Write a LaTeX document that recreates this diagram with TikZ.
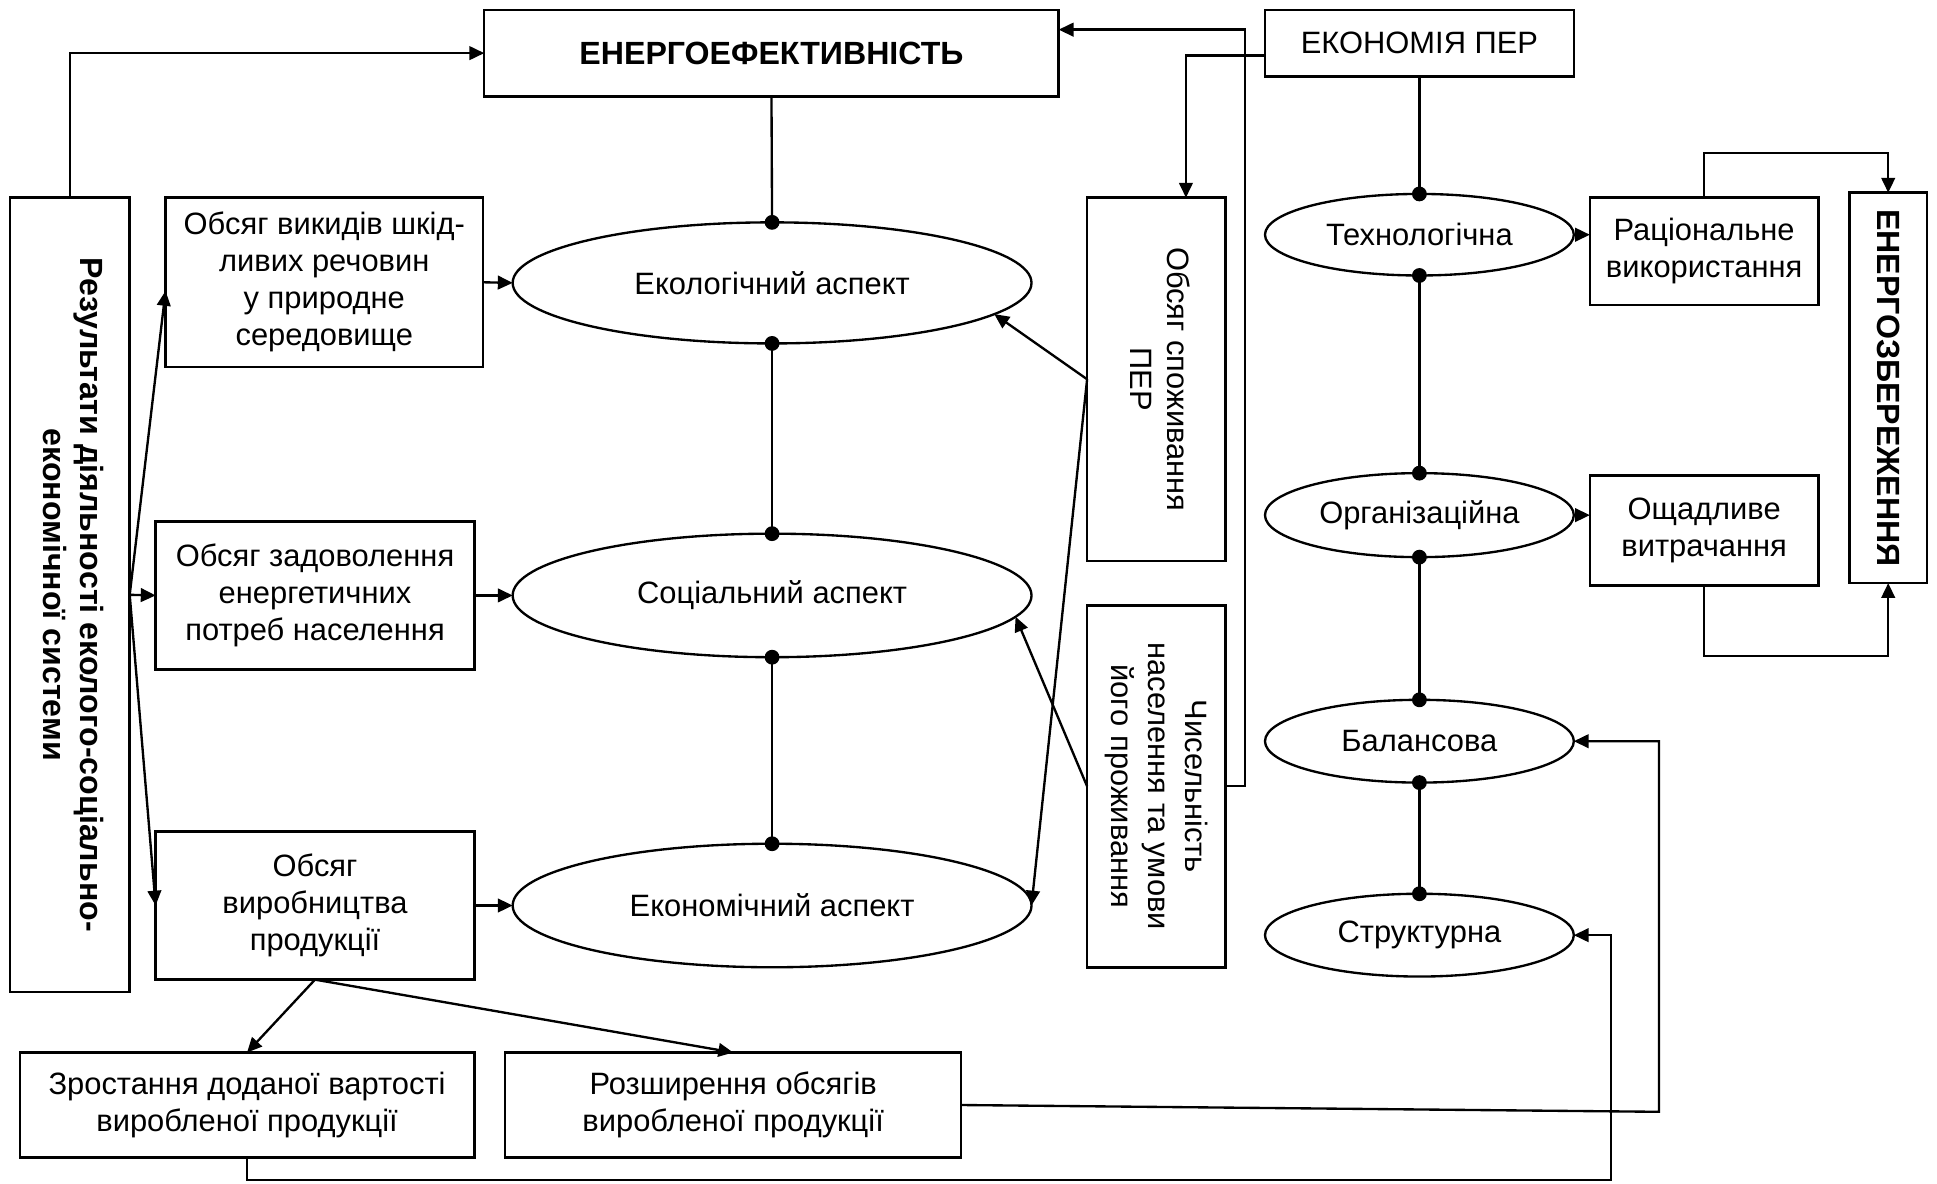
\documentclass[tikz,border=0pt]{standalone}
\usepackage{fontspec}
\setmainfont{Liberation Sans}
\usepackage{graphicx}
\usetikzlibrary{arrows.meta,shapes.geometric,calc}
\newcommand\rotlines[1]{\rotatebox{-90}{\begin{tabular}{@{}c@{}}#1\end{tabular}}}
\newcommand\bigbf{\fontsize{26}{30}\selectfont\bfseries}
\begin{document}
\begin{tikzpicture}[x=1pt,y=-1pt,
  font=\fontsize{25}{30}\selectfont,
  every node/.style={inner sep=0pt, outer sep=0pt},
  box/.style={draw, line width=2pt, rectangle, align=center},
  ell/.style={draw, line width=1.9pt, ellipse, align=center},
  conn/.style={line width=1.9pt},
  arr/.style={conn, -{Triangle[length=12pt,width=11pt]}},
  jdot/.style={fill=black}
]
\useasboundingbox (0,0) rectangle (1568,958);

% top boxes
\node[box, minimum width=465pt, minimum height=70pt] (ef) at (624.5,43) {\bigbf ЕНЕРГОЕФЕКТИВНІСТЬ};
\node[box, minimum width=250pt, minimum height=54pt] (ek) at (1149,35) {ЕКОНОМІЯ ПЕР};

% left tall box
\node[box, minimum width=97pt, minimum height=643pt] (res) at (56.5,481.5)
  {\rotlines{\bigbf Результати діяльності еколого-соціально-\\ \bigbf економічної системи}};

% left boxes
\node[box, minimum width=257pt, minimum height=137pt] (b1) at (262.5,228.5)
  {Обсяг викидів шкід-\\ливих речовин\\у природне\\середовище};
\node[box, minimum width=258pt, minimum height=120pt] (b2) at (255,482)
  {Обсяг задоволення\\енергетичних\\потреб населення};
\node[box, minimum width=258pt, minimum height=120pt] (b3) at (255,733)
  {Обсяг\\виробництва\\продукції};

% aspect ellipses
\node[ell, minimum width=420pt, minimum height=98pt] (e1) at (625,229) {Екологічний аспект};
\node[ell, minimum width=420pt, minimum height=100pt] (e2) at (625,482) {Соціальний аспект};
\node[ell, minimum width=420pt, minimum height=100pt] (e3) at (625,733) {Економічний аспект};

% vertical boxes
\node[box, minimum width=112pt, minimum height=294pt] (per) at (936,307)
  {\rotlines{Обсяг споживання\\ПЕР}};
\node[box, minimum width=112pt, minimum height=293pt] (chys) at (936,636.5)
  {\rotlines{Чисельність\\населення та умови\\його проживання}};

% right ellipses
\node[ell, minimum width=250pt, minimum height=66pt] (t1) at (1149,190) {Технологічна};
\node[ell, minimum width=250pt, minimum height=68pt] (t2) at (1149,417) {Організаційна};
\node[ell, minimum width=250pt, minimum height=67pt] (t3) at (1149,600) {Балансова};
\node[ell, minimum width=250pt, minimum height=67pt] (t4) at (1149,757) {Структурна};

% right boxes
\node[box, minimum width=185pt, minimum height=87pt] (rac) at (1379.5,203.5) {Раціональне\\використання};
\node[box, minimum width=185pt, minimum height=89pt] (osch) at (1379.5,429.5) {Ощадливе\\витрачання};
\node[box, minimum width=63pt, minimum height=316pt] (ez) at (1528.5,314)
  {\rotatebox{-90}{\bigbf ЕНЕРГОЗБЕРЕЖЕННЯ}};

% bottom boxes
\node[box, minimum width=368pt, minimum height=85pt] (zr) at (200,894.5)
  {Зростання доданої вартості\\виробленої продукції};
\node[box, minimum width=369pt, minimum height=85pt] (rz) at (593.5,894.5)
  {Розширення обсягів\\виробленої продукції};

% helper coordinates
\coordinate (kb) at (1343,900);
\coordinate (ks) at (1304,955);

% connectors: left
\draw[arr] (res.north) |- (ef.west);
\draw[arr] (res.east) -- ([yshift=-7pt]b1.west);
\draw[arr] (res.east) -- (b2.west);
\draw[arr] (res.east) -- (b3.west);
\draw[arr] (b1.east) -- (e1.west);
\draw[arr] (b2.east) -- (e2.west);
\draw[arr] (b3.east) -- (e3.west);

% aspect chain with dots
\draw[conn] (ef.south) -- (e1.north);
\draw[conn] (e1.south) -- (e2.north);
\draw[conn] (e2.south) -- (e3.north);
\foreach \p in {e1.north,e1.south,e2.north,e2.south,e3.north}
  \fill[jdot] (\p) circle (6pt);

% from vertical boxes to aspects
\draw[arr] (per.west) -- (e1.-8);
\draw[arr] (per.west) -- (e3.east);
\draw[arr] (chys.west) -- (e2.-5);
\draw[arr] (chys.east) -- ++(16,0) |- ([yshift=19pt]ef.east);
\draw[arr] ([yshift=-10pt]ek.west) -| ([xshift=24pt]per.north);

% right chain
\draw[conn] (ek.south) -- (t1.north);
\draw[conn] (t1.south) -- (t2.north);
\draw[conn] (t2.south) -- (t3.north);
\draw[conn] (t3.south) -- (t4.north);
\foreach \p in {t1.north,t1.south,t2.north,t2.south,t3.north,t3.south,t4.north}
  \fill[jdot] (\p) circle (6pt);

\draw[arr] (t1.east) -- (t1.east -| rac.west);
\draw[arr] (t2.east) -- (t2.east -| osch.west);
\draw[arr] (rac.north) -- ++(0,-36) -| (ez.north);
\draw[arr] (osch.south) -- ++(0,57) -| (ez.south);

% bottom
\draw[arr] (b3.south) -- (zr.north);
\draw[arr] (b3.south) -- (rz.north);
\draw[arr] (rz.east) -- (kb) |- (t3.east);
\draw[arr] (zr.south) |- (ks) |- (t4.east);
\end{tikzpicture}
\end{document}
